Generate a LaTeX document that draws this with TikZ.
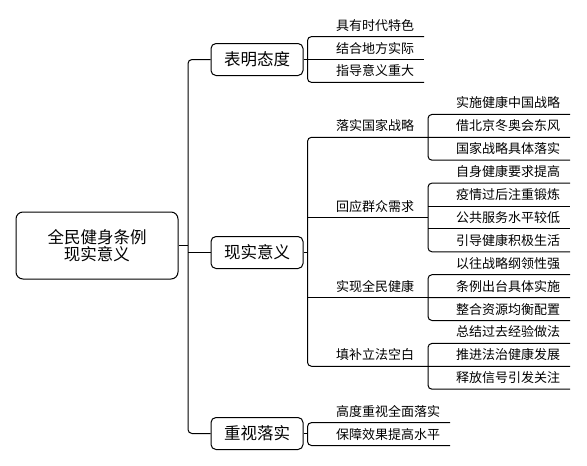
\documentclass[tikz,border=0pt]{standalone}
\usepackage{fontspec}
\setmainfont{Noto Sans CJK SC}
\usepackage{tikz}
\usetikzlibrary{positioning}

\begin{document}
\begin{tikzpicture}[x=1pt,y=-1pt,node distance=22.9pt,on grid,line width=1pt,
    rootbox/.style={draw,rounded corners=7pt,minimum width=162pt,minimum height=67pt,align=center,font=\fontsize{16.5}{17}\selectfont},
    mainbox/.style={draw,rounded corners=5pt,minimum width=92pt,minimum height=32pt,font=\fontsize{16.5}{18}\selectfont},
    topic/.style={anchor=south west,inner xsep=0pt,inner ysep=4pt,text height=10pt,text depth=2pt,text width=#1,align=left,font=\fontsize{13}{15}\selectfont},
    link/.style={rounded corners=4pt}]
  \useasboundingbox (0,0) rectangle (587,466);

  \node[rootbox] (root) at (97,245.5) {全民健身条例\\现实意义};
  \node[mainbox] (m1) at (257,59.5) {表明态度};
  \node[mainbox] (m2) at (257,252.5) {现实意义};
  \node[mainbox] (m3) at (257,433.5) {重视落实};

  % 表明态度
  \node[topic=87.5pt] (a1) at (335.5,36.6) {具有时代特色};
  \node[topic=87.5pt] (a2) [below=of a1] {结合地方实际};
  \node[topic=87.5pt] (a3) [below=of a2] {指导意义重大};

  % 现实意义
  \node[topic=91.5pt] (c1) at (335.5,137.3) {落实国家战略};
  \node[topic=91.5pt] (c2) at (335.5,217.5) {回应群众需求};
  \node[topic=91.5pt] (c3) at (335.5,297.6) {实现全民健康};
  \node[topic=91.5pt] (c4) at (335.5,366.3) {填补立法空白};

  \node[topic=113.5pt] (d1) at (455.5,114.4) {实施健康中国战略};
  \node[topic=113.5pt] (d2) [below=of d1] {借北京冬奥会东风};
  \node[topic=113.5pt] (d3) [below=of d2] {国家战略具体落实};
  \node[topic=113.5pt] (d4) [below=of d3] {自身健康要求提高};
  \node[topic=113.5pt] (d5) [below=of d4] {疫情过后注重锻炼};
  \node[topic=113.5pt] (d6) [below=of d5] {公共服务水平较低};
  \node[topic=113.5pt] (d7) [below=of d6] {引导健康积极生活};
  \node[topic=113.5pt] (d8) [below=of d7] {以往战略纲领性强};
  \node[topic=113.5pt] (d9) [below=of d8] {条例出台具体实施};
  \node[topic=113.5pt] (d10) [below=of d9] {整合资源均衡配置};
  \node[topic=113.5pt] (d11) [below=of d10] {总结过去经验做法};
  \node[topic=113.5pt] (d12) [below=of d11] {推进法治健康发展};
  \node[topic=113.5pt] (d13) [below=of d12] {释放信号引发关注};

  % 重视落实
  \node[topic=113.5pt] (e1) at (335.5,422.6) {高度重视全面落实};
  \node[topic=113.5pt] (e2) [below=of e1] {保障效果提高水平};

  \coordinate (t) at ([xshift=9.5pt]root.east);
  \coordinate (k1) at ([xshift=4pt]m1.east);
  \coordinate (k2) at ([xshift=4pt]m2.east);
  \coordinate (k3) at ([xshift=4pt]m3.east);

  % trunk
  \draw (root.east) -- (t);
  \draw[link] (m1.west) -| (t) |- (m3.west);
  \draw (t |- m2.west) -- (m2.west);

  \draw (m1.east) -- (a2.south east);
  \draw[link] (a1.south east) -| (k1) |- (a3.south east);

  \draw (m2.east) -- (k2);
  \draw[link] (c1.south east) -| (k2) |- (c4.south east);
  \draw (k2 |- c2.south) -- (c2.south east);
  \draw (k2 |- c3.south) -- (c3.south east);

  \draw (c1.south east) -- (d2.south east);
  \draw[link] (d1.south east) -| (c1.south east) |- (d3.south east);
  \draw[link] (d4.south east) -| (c2.south east) |- (d7.south east);
  \draw (c2.south east |- d5.south) -- (d5.south east);
  \draw (c2.south east |- d6.south) -- (d6.south east);
  \draw (c3.south east) -- (d9.south east);
  \draw[link] (d8.south east) -| (c3.south east) |- (d10.south east);
  \draw (c4.south east) -- (d12.south east);
  \draw[link] (d11.south east) -| (c4.south east) |- (d13.south east);

  \draw (m3.east) -- (k3);
  \draw[link] (e1.south east) -| (k3) |- (e2.south east);
\end{tikzpicture}
\end{document}
